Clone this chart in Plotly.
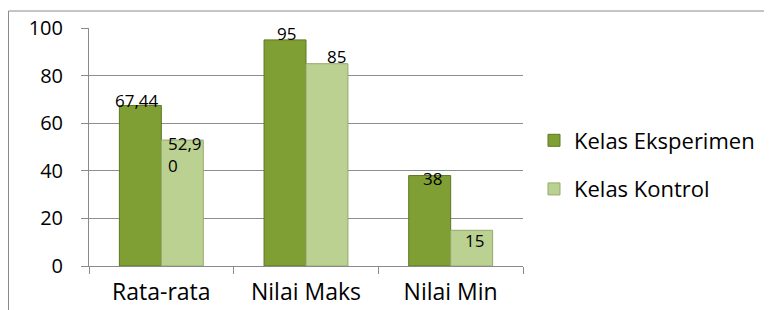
import plotly.graph_objects as go

categories = ["Rata-rata", "Nilai Maks", "Nilai Min"]
series_names = ["Kelas Eksperimen", "Kelas Kontrol"]
eksperimen = [67.44, 95, 38]
kontrol = [52.90, 85, 15]
eksperimen_labels = ["67,44", "95", "38"]
kontrol_labels = ["52,9<br>0", "85", "15"]
y_ticks = [0, 20, 40, 60, 80, 100]

# style
FONT = "Open Sans"
colors = ["#7f9f35", "#bbd192"]
line_colors = ["#5c7822", "#94ab6b"]
label_dx = [[-4, 1, 3], [3, 10, 3]]
label_dy = [[5, 6, -3], [10, 7, -10]]
label_align = [["center", "center", "center"], ["left", "center", "center"]]
bar_half = 20.7

# page body has an 8px margin; figure coordinates are page coordinates minus 8
W, H = 764, 302
PL, PR, PT, PB = 81, 515, 20, 258
PW, PH = PR - PL, PB - PT

fig = go.Figure()
for i, (name, vals) in enumerate(zip(series_names, [eksperimen, kontrol])):
    fig.add_trace(go.Bar(
        x=categories, y=vals, name=name,
        marker=dict(color=colors[i], line=dict(color=line_colors[i], width=1)),
        legendgroup=name,
    ))

for i, (vals, labs) in enumerate([(eksperimen, eksperimen_labels), (kontrol, kontrol_labels)]):
    for j, (c, v, t) in enumerate(zip(categories, vals, labs)):
        fig.add_annotation(
            x=c, y=v, text=t, showarrow=False, xref="x", yref="y",
            xshift=(-bar_half if i == 0 else bar_half) + label_dx[i][j],
            yshift=label_dy[i][j],
            yanchor="middle" if "<br>" not in t else "top",
            align=label_align[i][j],
            font=dict(family=FONT, size=17, color="#000"),
        )

# outer frame (page x=8 -> fig 0, page y=11 -> fig 3)
fx = (0.5 - PL) / PW
fy = (PB - 3) / PH
fig.add_shape(type="line", xref="paper", yref="paper",
              x0=fx, x1=(W - PL) / PW, y0=fy, y1=fy,
              line=dict(color="#8a8a8a", width=1))
fig.add_shape(type="line", xref="paper", yref="paper",
              x0=fx, x1=fx, y0=fy, y1=(PB - H - 10) / PH,
              line=dict(color="#8a8a8a", width=1))

fig.update_layout(
    width=W, height=H,
    margin=dict(l=PL, r=W - PR, t=PT, b=H - PB, autoexpand=False),
    paper_bgcolor="white", plot_bgcolor="white",
    barmode="group", bargap=0.42, bargroupgap=0,
    font=dict(family=FONT, size=20, color="#000"),
    showlegend=True,
    legend=dict(x=(526 - PL) / PW, y=(266 - 165) / 238, xanchor="left", yanchor="middle",
                font=dict(family=FONT, size=22), tracegroupgap=17,
                itemwidth=30, bgcolor="rgba(0,0,0,0)"),
    xaxis=dict(showgrid=False, showline=True, linecolor="#8a8a8a", linewidth=1,
               ticks="outside", tickson="boundaries", ticklen=7, tickcolor="#8a8a8a",
               ticklabelstandoff=5, tickfont=dict(family=FONT, size=23), automargin=False),
    yaxis=dict(range=[0, 100], tickvals=y_ticks, showgrid=True, gridcolor="#8e8e8e", gridwidth=1,
               showline=True, linecolor="#8a8a8a", linewidth=1, zeroline=False,
               ticks="outside", ticklen=7, tickcolor="#8a8a8a",
               ticklabelstandoff=14, tickfont=dict(family=FONT, size=20), automargin=False),
)

fig.write_html("out.html")
